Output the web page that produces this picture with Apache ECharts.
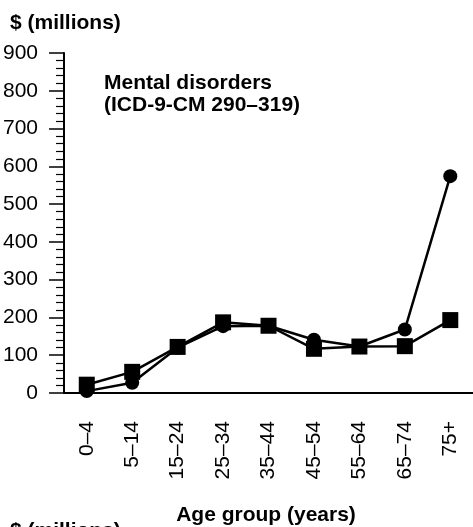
<!DOCTYPE html>
<html>
<head>
<meta charset="utf-8">
<script src="https://cdn.jsdelivr.net/npm/echarts@6/dist/echarts.min.js"></script>
<style>html,body{margin:0;padding:0;background:#fff;}#c{width:473px;height:527px;}</style>
</head>
<body>
<div id="c"></div>
<script>
var categories = ['0–4','5–14','15–24','25–34','35–44','45–54','55–64','65–74','75+'];
var circleValues = [5, 27, 120, 177, 178, 141, 123, 168, 574];
var squareValues = [22, 56, 122, 187, 178, 117, 123, 124, 193];
var yTicks = {min: 0, max: 900, interval: 100, minorSplits: 5};
var titleLines = ['Mental disorders', '(ICD-9-CM 290–319)'];
var yName = '$ (millions)';
var xName = 'Age group (years)';

var font = 'Liberation Sans, Arial, sans-serif';
var chart = echarts.init(document.getElementById('c'));
chart.setOption({
  animation: false,
  backgroundColor: '#fff',
  grid: {left: 62, right: 0, top: 53, bottom: 134, containLabel: false},
  xAxis: {
    type: 'category',
    data: categories,
    boundaryGap: true,
    axisLine: {lineStyle: {color: '#000', width: 2}},
    axisTick: {alignWithLabel: true, length: 10, lineStyle: {color: '#000', width: 1.5}},
    axisLabel: {rotate: 90, margin: 28, color: '#000', fontSize: 21, fontFamily: font, interval: 0}
  },
  yAxis: {
    type: 'value',
    min: yTicks.min, max: yTicks.max, interval: yTicks.interval,
    axisLine: {show: true, lineStyle: {color: '#000', width: 2}},
    axisTick: {show: true, length: 15, lineStyle: {color: '#000', width: 1.5}},
    minorTick: {show: true, splitNumber: yTicks.minorSplits, length: 8, lineStyle: {color: '#000', width: 1.2}},
    axisLabel: {margin: 26, color: '#000', fontSize: 21, fontFamily: font},
    splitLine: {show: false},
    minorSplitLine: {show: false}
  },
  series: [{
    type: 'line',
    data: circleValues,
    symbol: 'circle',
    symbolSize: 14,
    lineStyle: {color: '#000', width: 2.5},
    itemStyle: {color: '#000'}
  }, {
    type: 'line',
    data: squareValues,
    symbol: 'rect',
    symbolSize: 16,
    lineStyle: {color: '#000', width: 2.5},
    itemStyle: {color: '#000'}
  }],
  graphic: [
    {type: 'text', left: 10, top: 13, style: {text: yName, fill: '#000', font: 'bold 21px ' + font}},
    {type: 'text', left: 104, top: 73, style: {text: titleLines[0], fill: '#000', font: 'bold 21px ' + font}},
    {type: 'text', left: 104, top: 95, style: {text: titleLines[1], fill: '#000', font: 'bold 21px ' + font}},
    {type: 'text', x: 266, y: 515, style: {text: xName, fill: '#000', font: 'bold 21px ' + font, textAlign: 'center', textVerticalAlign: 'middle'}},
    {type: 'text', left: 10, top: 521, style: {text: yName, fill: '#000', font: 'bold 21px ' + font}}
  ]
});
</script>
</body>
</html>
